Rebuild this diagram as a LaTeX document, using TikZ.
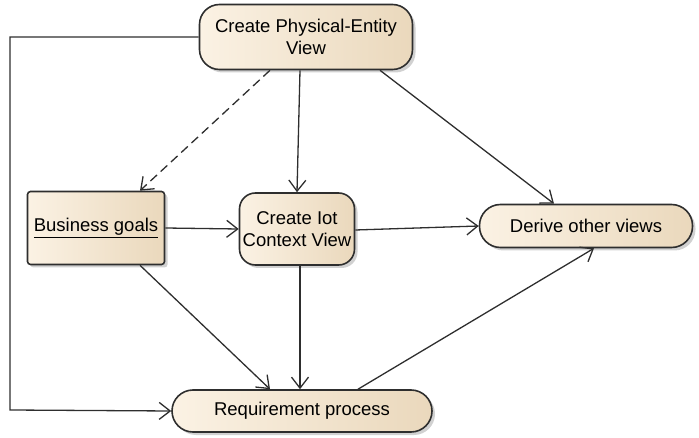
\documentclass[tikz,border=0pt]{standalone}
\usepackage{fontspec}
\setmainfont{Liberation Sans}
\usepackage{tikz}
\usetikzlibrary{arrows.meta,positioning,calc,shadows}
\usepackage{xcolor}
\definecolor{boxlight}{HTML}{FBF2E4}
\definecolor{boxdark}{HTML}{EAD8BC}
\definecolor{edgegray}{HTML}{2E2E2E}

\begin{document}
\begin{tikzpicture}[x=1pt,y=-1pt,
    font=\fontsize{18.5}{22}\selectfont,
    act/.style={draw=edgegray,line width=1.6pt,left color=boxlight,right color=boxdark,
      align=center,inner sep=0pt,
      drop shadow={shadow xshift=3pt,shadow yshift=-3pt,fill=gray!60,opacity=.6}},
    flow/.style={edgegray,line width=1.3pt,-{Straight Barb[length=11pt,width=17pt]}}]
        \useasboundingbox (0,0) rectangle (699,438);
        % activities
        \node[act,rounded corners=20pt,minimum width=213pt,minimum height=65pt] (entity) at (306,37) {Create Physical-Entity\\View};
        \node[act,rounded corners=3pt,minimum width=137pt,minimum height=73pt] (goals) at (96,228) {\underline{Business goals}};
        \node[act,rounded corners=16pt,minimum width=115pt,minimum height=72pt] (context) at (297,229) {Create Iot\\Context View};
        \node[act,rounded corners=21pt,minimum width=213pt,minimum height=43pt] (derive) at (586,226) {Derive other views};
        \node[act,rounded corners=21pt,minimum width=260pt,minimum height=42pt] (req) at (302,411) {Requirement process};
        % connectors
        \coordinate (loopa) at (10,37);
        \coordinate (loopb) at (10,410);
        \draw[flow] (entity.west) -- (loopa) -- (loopb) -- (req.west);
        \draw[flow,dash pattern=on 9pt off 5pt] ($(entity.south)+(-36,0)$) -- ($(goals.north)+(44,0)$);
        \draw[flow] ($(entity.south)+(-6,0)$) -- (context.north);
        \draw[flow] ($(entity.south)+(74,0)$) -- ($(derive.north)+(-32,0)$);
        \draw[flow] (goals.east) -- (context.west);
        \draw[flow] ($(context.east)+(0,1)$) -- (derive.west);
        \draw[flow] ($(goals.south)+(44,0)$) -- ($(req.north)+(-32,0)$);
        \draw[flow] ($(context.south)+(3,0)$) -- ($(req.north)+(-2,0)$);
        \draw[flow] ($(req.north)+(56,0)$) -- ($(derive.south)+(8,0)$);
      \end{tikzpicture}
\end{document}
